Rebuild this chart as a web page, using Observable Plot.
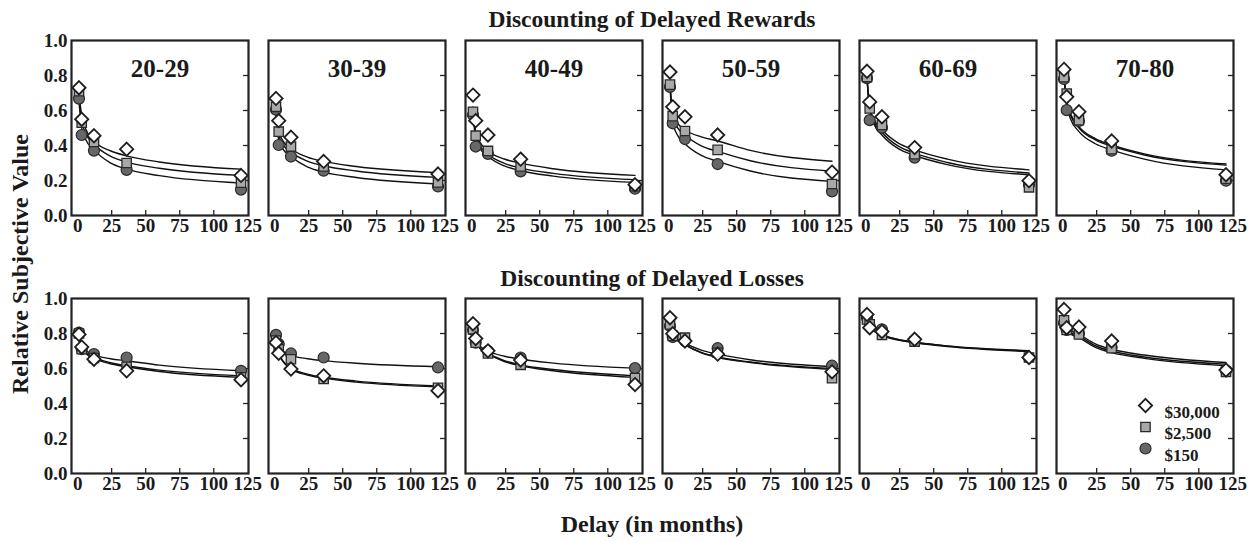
<!DOCTYPE html>
<html>
<head>
<meta charset="utf-8">
<script src="https://cdn.jsdelivr.net/npm/d3@7"></script>
<script src="https://cdn.jsdelivr.net/npm/@observablehq/plot@0.6"></script>
<style>
  html, body { margin: 0; padding: 0; background: #fff; }
  body {
    width: 1255px; height: 541px; position: relative; overflow: hidden;
    font-family: "Liberation Serif", "Times New Roman", serif; font-weight: bold; color: #1a1a1a;
  }
  .title {
    position: absolute; left: 71px; width: 1162px; height: 30px; line-height: 30px;
    text-align: center; white-space: nowrap;
  }
  .row-title { font-size: 23.5px; }
  .x-title { font-size: 24px; }
  .y-title {
    position: absolute; left: 20px; top: 264px; transform: translate(-50%, -50%) rotate(-90deg);
    font-size: 24px; white-space: nowrap;
  }
  svg { display: block; }
</style>
</head>
<body>
<div id="rewards"></div>
<div id="losses"></div>
<div class="title row-title" style="top: 4px">Discounting of Delayed Rewards</div>
<div class="title row-title" style="top: 263px">Discounting of Delayed Losses</div>
<div class="title x-title" style="top: 509px">Delay (in months)</div>
<div class="y-title">Relative Subjective Value</div>
<script>
// Age groups (one panel each) and the three delayed amounts
const ageGroups = ["20-29", "30-39", "40-49", "50-59", "60-69", "70-80"];
const amountLabels = ["$30,000", "$2,500", "$150"];
const delayMonths = [1, 3, 12, 36, 120];
const fitMonths = [1, 3, 6, 12, 24, 36, 60, 120];
const xTickValues = [0, 25, 50, 75, 100, 125];
const yTickValues = [0, 0.2, 0.4, 0.6, 0.8, 1];

// Median relative subjective values, one row per age group, one entry per delay
const rewards30000 = [
  [0.73, 0.55, 0.456, 0.379, 0.229],
  [0.669, 0.542, 0.447, 0.309, 0.237],
  [0.688, 0.542, 0.46, 0.322, 0.176],
  [0.82, 0.621, 0.564, 0.46, 0.248],
  [0.824, 0.649, 0.564, 0.388, 0.199],
  [0.835, 0.678, 0.593, 0.426, 0.233]
];
const rewards2500 = [
  [0.71, 0.53, 0.42, 0.30, 0.187],
  [0.621, 0.479, 0.394, 0.28, 0.189],
  [0.593, 0.456, 0.369, 0.28, 0.167],
  [0.748, 0.568, 0.483, 0.375, 0.18],
  [0.791, 0.612, 0.517, 0.35, 0.161],
  [0.79, 0.697, 0.545, 0.379, 0.21]
];
const rewards150 = [
  [0.668, 0.46, 0.371, 0.261, 0.148],
  [0.605, 0.403, 0.337, 0.256, 0.166],
  [0.574, 0.394, 0.352, 0.252, 0.153],
  [0.735, 0.527, 0.437, 0.294, 0.138],
  [0.785, 0.545, 0.502, 0.331, 0.176],
  [0.78, 0.602, 0.54, 0.37, 0.199]
];
const losses30000 = [
  [0.795, 0.723, 0.653, 0.587, 0.536],
  [0.748, 0.687, 0.597, 0.558, 0.473],
  [0.856, 0.771, 0.701, 0.648, 0.508],
  [0.89, 0.799, 0.757, 0.682, 0.581],
  [0.909, 0.833, 0.811, 0.767, 0.663],
  [0.9375, 0.833, 0.837, 0.757, 0.591]
];
const losses2500 = [
  [0.80, 0.71, 0.66, 0.61, 0.55],
  [0.76, 0.71, 0.653, 0.54, 0.49],
  [0.824, 0.748, 0.686, 0.621, 0.545],
  [0.852, 0.786, 0.776, 0.69, 0.545],
  [0.88, 0.852, 0.792, 0.754, 0.663],
  [0.875, 0.82, 0.795, 0.716, 0.581]
];
const losses150 = [
  [0.805, 0.71, 0.682, 0.663, 0.587],
  [0.792, 0.74, 0.686, 0.663, 0.606],
  [0.82, 0.748, 0.70, 0.663, 0.602],
  [0.843, 0.78, 0.757, 0.716, 0.616],
  [0.89, 0.84, 0.824, 0.76, 0.663],
  [0.86, 0.82, 0.80, 0.72, 0.59]
];

// Hyperboloid fit curves, sampled at fitMonths
const rewardsFit30000 = [
  [0.70, 0.57, 0.493, 0.426, 0.370, 0.341, 0.306, 0.265],
  [0.62, 0.48, 0.428, 0.381, 0.334, 0.309, 0.280, 0.245],
  [0.62, 0.48, 0.421, 0.369, 0.323, 0.299, 0.267, 0.229],
  [0.76, 0.58, 0.533, 0.49, 0.449, 0.426, 0.372, 0.31],
  [0.79, 0.62, 0.551, 0.49, 0.414, 0.375, 0.322, 0.261],
  [0.80, 0.66, 0.579, 0.508, 0.439, 0.403, 0.352, 0.294]
];
const rewardsFit2500 = [
  [0.68, 0.54, 0.469, 0.407, 0.339, 0.305, 0.270, 0.229],
  [0.60, 0.46, 0.408, 0.362, 0.311, 0.284, 0.254, 0.218],
  [0.60, 0.46, 0.401, 0.35, 0.298, 0.271, 0.241, 0.205],
  [0.75, 0.56, 0.508, 0.46, 0.398, 0.366, 0.313, 0.253],
  [0.79, 0.61, 0.539, 0.476, 0.396, 0.356, 0.303, 0.243],
  [0.80, 0.65, 0.570, 0.50, 0.432, 0.396, 0.346, 0.288]
];
const rewardsFit150 = [
  [0.65, 0.50, 0.433, 0.375, 0.301, 0.265, 0.228, 0.186],
  [0.57, 0.43, 0.381, 0.337, 0.278, 0.248, 0.217, 0.18],
  [0.58, 0.44, 0.385, 0.337, 0.283, 0.256, 0.225, 0.189],
  [0.74, 0.53, 0.466, 0.41, 0.343, 0.309, 0.254, 0.195],
  [0.78, 0.60, 0.525, 0.46, 0.382, 0.343, 0.291, 0.233],
  [0.79, 0.63, 0.549, 0.479, 0.410, 0.375, 0.322, 0.261]
];
const lossesFit30000 = [
  [0.78, 0.715, 0.686, 0.658, 0.627, 0.61, 0.583, 0.549],
  [0.75, 0.685, 0.640, 0.598, 0.563, 0.545, 0.522, 0.495],
  [0.82, 0.75, 0.715, 0.683, 0.64, 0.616, 0.587, 0.549],
  [0.87, 0.80, 0.767, 0.737, 0.692, 0.666, 0.637, 0.60],
  [0.89, 0.845, 0.818, 0.793, 0.766, 0.751, 0.729, 0.702],
  [0.90, 0.84, 0.817, 0.795, 0.741, 0.71, 0.677, 0.634]
];
const lossesFit2500 = [
  [0.78, 0.72, 0.691, 0.663, 0.633, 0.616, 0.591, 0.558],
  [0.75, 0.69, 0.645, 0.602, 0.568, 0.55, 0.528, 0.50],
  [0.82, 0.75, 0.717, 0.686, 0.645, 0.621, 0.594, 0.558],
  [0.86, 0.795, 0.764, 0.735, 0.689, 0.663, 0.634, 0.596],
  [0.88, 0.838, 0.814, 0.79, 0.762, 0.747, 0.725, 0.697],
  [0.89, 0.83, 0.806, 0.785, 0.73, 0.70, 0.666, 0.625]
];
const lossesFit150 = [
  [0.79, 0.73, 0.703, 0.678, 0.656, 0.644, 0.619, 0.587],
  [0.78, 0.72, 0.697, 0.675, 0.656, 0.645, 0.630, 0.61],
  [0.83, 0.76, 0.729, 0.70, 0.670, 0.653, 0.631, 0.602],
  [0.86, 0.80, 0.772, 0.745, 0.705, 0.682, 0.650, 0.61],
  [0.88, 0.84, 0.816, 0.792, 0.765, 0.75, 0.728, 0.70],
  [0.88, 0.82, 0.798, 0.776, 0.721, 0.691, 0.658, 0.616]
];

// Marker look for each amount, in amountLabels order
const markerStyles = [
  {symbol: "diamond2", fill: "#ffffff", stroke: "#1e1e1e", strokeWidth: 1.8, r: 6},
  {symbol: "square", fill: "#a8a8a8", stroke: "#2a2a2a", strokeWidth: 1.3, r: 5.3},
  {symbol: "circle", fill: "#676767", stroke: "#2a2a2a", strokeWidth: 1.2, r: 5.5}
];

// Long-format rows: series[amount][age][delay index]
function tidy(seriesList, months) {
  const rows = [];
  seriesList.forEach((series, j) =>
    series.forEach((values, i) =>
      values.forEach((v, k) =>
        rows.push({age: ageGroups[i], amount: amountLabels[j], delay: months[k], value: v}))));
  return rows;
}

const W = 1255, ML = 71, MR = 22;
const padInner = 20 / 197;
const step = (W - ML - MR) / (ageGroups.length - padInner);
const panelWidth = step * (1 - padInner);

function panelRow({observed, fitted, height, marginTop, marginBottom, showAges, showLegend}) {
  const points = tidy(observed, delayMonths);
  const curves = tidy(fitted, fitMonths);
  const frameHeight = height - marginTop - marginBottom;
  const ink = "#222";
  const marks = [
    Plot.frame({stroke: ink, strokeWidth: 2.2}),
    Plot.tickX(xTickValues.slice(1, -1), {x: d => d, insetTop: frameHeight - 5, stroke: ink, strokeWidth: 1.3}),
    Plot.tickY(yTickValues.slice(1, -1), {y: d => d, insetLeft: panelWidth - 5, stroke: ink, strokeWidth: 1.3}),
    Plot.axisX(xTickValues, {tickSize: 0, tickPadding: 3, fontSize: 19, label: null}),
    Plot.axisY(yTickValues, {tickSize: 0, tickPadding: 4, fontSize: 19, tickFormat: ".1f", label: null}),
    Plot.line(curves, {x: "delay", y: "value", z: "amount", fx: "age", curve: "monotone-x", stroke: "#111", strokeWidth: 1.4}),
    // draw $150 first so the larger amounts sit on top
    ...[2, 1, 0].map(j => Plot.dot(points.filter(d => d.amount === amountLabels[j]),
      {x: "delay", y: "value", fx: "age", ...markerStyles[j]}))
  ];
  if (showAges) {
    marks.push(Plot.text(ageGroups, {fx: d => d, text: d => d, frameAnchor: "top", dy: 19, fontSize: 25}));
  }
  if (showLegend) {
    const last = ageGroups[ageGroups.length - 1];
    amountLabels.forEach((a, j) => {
      const item = [{age: last, amount: a}];
      marks.push(Plot.dot(item, {fx: "age", frameAnchor: "top-left", dx: 89, dy: 107 + 21.5 * j, ...markerStyles[j]}));
      marks.push(Plot.text(item, {fx: "age", text: "amount", frameAnchor: "top-left", dx: 108, dy: 107 + 21.5 * j, textAnchor: "start", fontSize: 17}));
    });
  }
  return Plot.plot({
    width: W, height, marginLeft: ML, marginRight: MR, marginTop, marginBottom,
    style: {fontFamily: "'Liberation Serif', 'Times New Roman', serif", fontWeight: "bold", fontSize: "18px", color: "#1a1a1a", background: "#fff", overflow: "visible"},
    fx: {domain: ageGroups, paddingInner: padInner, paddingOuter: 0, axis: null, label: null},
    x: {domain: [-4.5, 125.5]},
    y: {domain: [0, 1]},
    marks
  });
}

// Rewards row: frame from y=40 to y=215; losses row: frame from y=298 to y=473
document.getElementById("rewards").append(panelRow({
  observed: [rewards30000, rewards2500, rewards150],
  fitted: [rewardsFit30000, rewardsFit2500, rewardsFit150],
  height: 262, marginTop: 40, marginBottom: 47, showAges: true, showLegend: false
}));
document.getElementById("losses").append(panelRow({
  observed: [losses30000, losses2500, losses150],
  fitted: [lossesFit30000, lossesFit2500, lossesFit150],
  height: 243, marginTop: 36, marginBottom: 32, showAges: false, showLegend: true
}));
</script>
</body>
</html>
